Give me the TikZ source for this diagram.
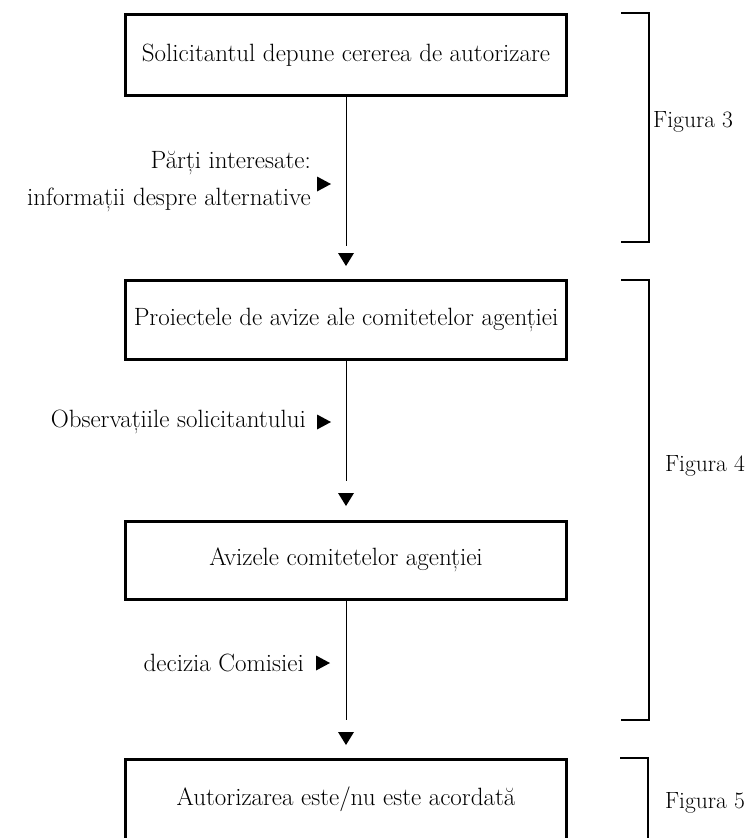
\documentclass[tikz,border=0pt]{standalone}
\usepackage{fontspec}
\begin{document}
\begin{tikzpicture}[x=1pt,y=-1pt,
  every node/.style={font=\fontsize{25}{37}\selectfont, inner sep=0pt},
  box/.style={draw, line width=3pt, minimum width=441pt, align=center},
  flow/.style={line width=0.9pt},
  tip/.style={fill=black},
  brace/.style={line width=1.3pt},
  side/.style={anchor=east, align=right},
  figlabel/.style={font=\fontsize{23.5}{28}\selectfont}]
\useasboundingbox (0,0) rectangle (747,838);

% process boxes
\node[box, minimum height=81pt] (b1) at (346,55) {Solicitantul depune cererea de autorizare};
\node[box, minimum height=79pt] (b2) at (346,320) {Proiectele de avize ale comitetelor agenției};
\node[box, minimum height=78pt] (b3) at (346,560) {Avizele comitetelor agenției};
\node[box, minimum height=81pt] (b4) at (346,799.5) {Autorizarea este/nu este acordată};

% free ends of the vertical connectors
\coordinate (e1) at (346,246);
\coordinate (e2) at (346,481);
\coordinate (e3) at (346,720);
\draw[flow] (b1.south) -- (e1);
\draw[flow] (b2.south) -- (e2);
\draw[flow] (b3.south) -- (e3);

% downward arrow heads
\coordinate (d1) at (346,266);
\coordinate (d2) at (346,506);
\coordinate (d3) at (346,745);
\foreach \d in {d1,d2,d3}
  \fill[tip] (\d) -- ++(-8,-13) -- ++(16,0) -- cycle;

% side inputs
\node[side] (s1) at (311,182) {Părți interesate:\\informații despre alternative};
\node[side] (s2) at (306,422) {Observațiile solicitantului};
\node[side] (s3) at (304,663) {decizia Comisiei};
\coordinate (r1) at (331,184);
\coordinate (r2) at (331,422);
\coordinate (r3) at (330,663);
\foreach \r in {r1,r2,r3}
  \fill[tip] (\r) -- ++(-14,-7.5) -- ++(0,15) -- cycle;

% brackets grouping the steps
\draw[brace] (621,13) -- (649,13) -- (649,242) -- (621,242);
\draw[brace] (621,280) -- (649,280) -- (649,720) -- (621,720);
\draw[brace] (620,758) -- (648,758) -- (648,845);
\node[figlabel, anchor=west] (f3) at (653,122) {Figura 3};
\node[figlabel, anchor=east] (f4) at (745,466) {Figura 4};
\node[figlabel, anchor=east] (f5) at (745,803) {Figura 5};
\end{tikzpicture}
\end{document}
